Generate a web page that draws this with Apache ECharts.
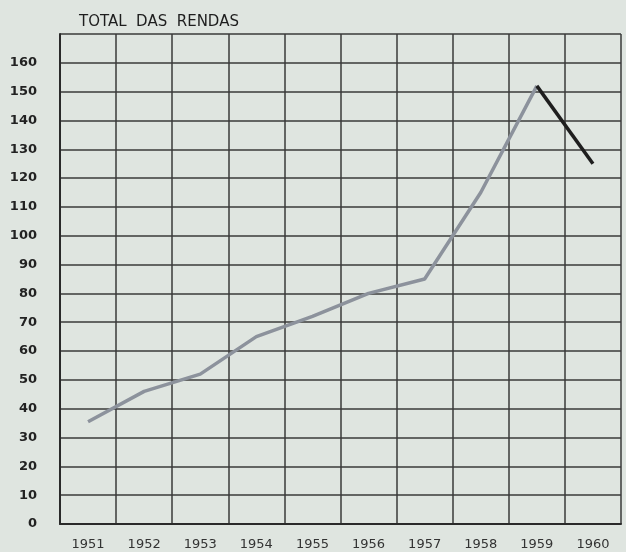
<!DOCTYPE html>
<html>
<head>
<meta charset="utf-8">
<script src="https://cdn.jsdelivr.net/npm/echarts@6/dist/echarts.min.js"></script>
<style>
html,body{margin:0;padding:0;background:#dfe5e0;}
#c{width:626px;height:552px;}
</style>
</head>
<body>
<div id="c"></div>
<script>
var title = 'TOTAL  DAS  RENDAS';
var years = ['1951','1952','1953','1954','1955','1956','1957','1958','1959','1960'];
var totalRendas = [35.5, 46, 52, 65, 72, 80, 85, 115, 152, 125];
var yTicks = [0, 10, 20, 30, 40, 50, 60, 70, 80, 90, 100, 110, 120, 130, 140, 150, 160];
// last segment (1959-1960) drawn in black
var greyPart = totalRendas.map(function(v, i){ return i <= 8 ? v : null; });
var blackPart = totalRendas.map(function(v, i){ return i >= 8 ? v : null; });

var chart = echarts.init(document.getElementById('c'), null, {renderer:'canvas'});
chart.setOption({
  backgroundColor: '#dfe5e0',
  animation: false,
  title: {
    text: title, left: 74, top: 10,
    textStyle: {fontFamily: 'DejaVu Sans', fontSize: 15, fontWeight: 500, color: '#1e1e1e'}
  },
  grid: {left: 60, right: 5, top: 34, bottom: 28},
  xAxis: {
    type: 'category', data: years, boundaryGap: true,
    axisLine: {show: true, lineStyle: {color: '#2a2a2a', width: 2}},
    axisTick: {show: false},
    axisLabel: {color: '#333', fontFamily: 'DejaVu Sans', fontSize: 13, fontWeight: 'normal', margin: 14},
    splitLine: {show: true, lineStyle: {color: '#3a3a3a', width: 1.5}}
  },
  yAxis: {
    type: 'value', min: 0, max: 170, interval: 10,
    axisLine: {show: true, lineStyle: {color: '#2a2a2a', width: 2}},
    axisTick: {show: false},
    axisLabel: {
      color: '#222', fontFamily: 'DejaVu Sans', fontSize: 13, fontWeight: 'bold', margin: 23,
      formatter: function(v){ return yTicks.indexOf(v) >= 0 ? String(v) : ''; }
    },
    splitLine: {show: true, lineStyle: {color: '#3a3a3a', width: 1.5}}
  },
  series: [
    {type: 'line', data: greyPart, symbol: 'none', connectNulls: false,
     lineStyle: {color: '#8c929c', width: 3.5}},
    {type: 'line', data: blackPart, symbol: 'none', connectNulls: false,
     lineStyle: {color: '#1e1e1e', width: 3.5}}
  ]
});
</script>
</body>
</html>
